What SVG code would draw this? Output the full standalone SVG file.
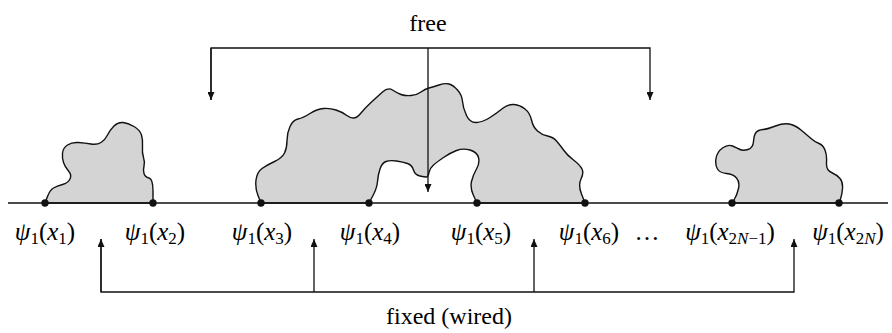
<svg xmlns="http://www.w3.org/2000/svg" width="892" height="333" viewBox="0 0 892 333">
<style>
.bg{fill:#ffffff}
.blob{fill:#d4d4d4;stroke:#111111;stroke-width:1.4;stroke-linejoin:round}
.base{stroke:#111111;stroke-width:1.4;fill:none}
.dot{fill:#111111}
.wire{stroke:#111111;stroke-width:1.3;fill:none}
.lab{font-family:"Liberation Serif","Times New Roman",serif;font-size:25px;fill:#000000}
.title{font-family:"Liberation Serif","Times New Roman",serif;font-size:24px;fill:#000000;text-anchor:middle}
.i{font-style:italic}
.sub{font-size:17px}
</style>
<defs>
<marker id="ah" viewBox="0 0 8 7" refX="8" refY="3.5" markerWidth="8" markerHeight="7" markerUnits="userSpaceOnUse" orient="auto">
<path d="M0,0 L8,3.5 L0,7 Z" fill="#111111"/>
</marker>
</defs>
<rect class="bg" x="0" y="0" width="892" height="333"/>

<g id="blob1">
<path class="blob" d="M45,203 L47.5,196.5 Q50,190 53.5,188 Q57,186 62.5,184.5 Q68,183 70,179 Q72,175 68.5,171 Q65,167 63.5,162.5 Q62,158 62.5,153 Q63,148 67.5,145 Q72,142 78.5,142.5 Q85,143 91,144 Q97,145 101,142.5 Q105,140 107.5,135 Q110,130 114,126 Q118,122 123,122.5 Q128,123 134,126.5 Q140,130 141.5,135 Q143,140 142.5,146.5 Q142,153 143.5,157.5 Q145,162 144,166 Q143,170 144,173.5 Q145,177 149,178 Q153,179 153,191 L153,203 Z"/>
</g>
<g id="blob2">
<path class="blob" d="M261,203 L258,195.5 Q255,188 256,180 Q257,172 262,168.5 Q267,165 274.5,161.5 Q282,158 284.5,153 Q287,148 287,140.5 Q287,133 290,126.5 Q293,120 298,119 Q303,118 310,113.5 Q317,109 323.5,108.5 Q330,108 336,110 Q342,112 346,115 Q350,118 353.5,118 Q357,118 361,113 Q365,108 371,102.5 Q377,97 382.5,92 Q388,87 392.5,90 Q397,93 401,94.5 Q405,96 411,95.5 Q417,95 421,92 Q425,89 429,88 Q433,87 439,85 Q445,83 449,84 Q453,85 457.5,90 Q462,95 462.5,101.5 Q463,108 466.5,115.5 Q470,123 476.5,122.5 Q483,122 490,117.5 Q497,113 502.5,108.5 Q508,104 514,104.5 Q520,105 525,109 Q530,113 531.5,120 Q533,127 537.5,131 Q542,135 547.5,136 Q553,137 556.5,141 Q560,145 563.5,150 Q567,155 573.5,160 Q580,165 582,169 Q584,173 581,179 Q578,185 581.5,194 L585,203 L477,203 L473.5,195.5 Q470,188 471.5,181.5 Q473,175 476.5,169 Q480,163 478.5,157.5 Q477,152 470,150 Q463,148 456.5,150.5 Q450,153 443.5,157.5 Q437,162 433.5,165 Q430,168 429,172.5 Q428,177 426.5,177 Q425,177 420,176 Q415,175 413.5,170 Q412,165 407.5,163.5 Q403,162 396.5,161 Q390,160 386,161.5 Q382,163 380,169 Q378,175 377.5,181.5 Q377,188 373,195.5 L369,203 Z"/>
</g>
<g id="blob3">
<path class="blob" d="M732,203 L734.5,199 Q737,195 738.5,188.5 Q740,182 736.5,178 Q733,174 726.5,173.5 Q720,173 717.5,169 Q715,165 716,158.5 Q717,152 722.5,148 Q728,144 732.5,146 Q737,148 740,149.5 Q743,151 748,149.5 Q753,148 753.5,141.5 Q754,135 756,132.5 Q758,130 763,129.5 Q768,129 775.5,126 Q783,123 789,124 Q795,125 801,130 Q807,135 811,138.5 Q815,142 819,143.5 Q823,145 825,150 Q827,155 826.5,162.5 Q826,170 831.5,172.5 Q837,175 840,178.5 Q843,182 842.5,188.5 Q842,195 840.5,199 L839,203 Z"/>
</g>

<g id="axis">
<line class="base" x1="8" y1="203" x2="888" y2="203"/>
</g>

<g id="connectors">
<polyline class="wire" points="211,100 211,48 650,48 650,100" marker-end="url(#ah)"/>
<line class="wire" x1="211" y1="48" x2="211" y2="100" marker-end="url(#ah)"/>
<line class="wire" x1="428" y1="48" x2="428" y2="192" marker-end="url(#ah)"/>
<polyline class="wire" points="101,239 101,292 794,292 794,239" marker-end="url(#ah)"/>
<line class="wire" x1="101" y1="292" x2="101" y2="239" marker-end="url(#ah)"/>
<line class="wire" x1="314" y1="292" x2="314" y2="239" marker-end="url(#ah)"/>
<line class="wire" x1="534" y1="292" x2="534" y2="239" marker-end="url(#ah)"/>
</g>

<g id="dots">
<circle class="dot" cx="45" cy="203" r="3.7"/>
<circle class="dot" cx="153" cy="203" r="3.7"/>
<circle class="dot" cx="261" cy="203" r="3.7"/>
<circle class="dot" cx="369" cy="203" r="3.7"/>
<circle class="dot" cx="477" cy="203" r="3.7"/>
<circle class="dot" cx="585" cy="203" r="3.7"/>
<circle class="dot" cx="732" cy="203" r="3.7"/>
<circle class="dot" cx="839" cy="203" r="3.7"/>
</g>

<g id="labels">
<text class="title" x="428" y="31">free</text>
<text class="title" x="449" y="324">fixed (wired)</text>
<text class="lab" x="45" y="240" text-anchor="middle"><tspan class="i">ψ</tspan><tspan class="sub" dy="4">1</tspan><tspan dy="-4">(</tspan><tspan class="i">x</tspan><tspan class="sub" dy="4">1</tspan><tspan dy="-4">)</tspan></text>
<text class="lab" x="155" y="240" text-anchor="middle"><tspan class="i">ψ</tspan><tspan class="sub" dy="4">1</tspan><tspan dy="-4">(</tspan><tspan class="i">x</tspan><tspan class="sub" dy="4">2</tspan><tspan dy="-4">)</tspan></text>
<text class="lab" x="262" y="240" text-anchor="middle"><tspan class="i">ψ</tspan><tspan class="sub" dy="4">1</tspan><tspan dy="-4">(</tspan><tspan class="i">x</tspan><tspan class="sub" dy="4">3</tspan><tspan dy="-4">)</tspan></text>
<text class="lab" x="370" y="240" text-anchor="middle"><tspan class="i">ψ</tspan><tspan class="sub" dy="4">1</tspan><tspan dy="-4">(</tspan><tspan class="i">x</tspan><tspan class="sub" dy="4">4</tspan><tspan dy="-4">)</tspan></text>
<text class="lab" x="481" y="240" text-anchor="middle"><tspan class="i">ψ</tspan><tspan class="sub" dy="4">1</tspan><tspan dy="-4">(</tspan><tspan class="i">x</tspan><tspan class="sub" dy="4">5</tspan><tspan dy="-4">)</tspan></text>
<text class="lab" x="589" y="240" text-anchor="middle"><tspan class="i">ψ</tspan><tspan class="sub" dy="4">1</tspan><tspan dy="-4">(</tspan><tspan class="i">x</tspan><tspan class="sub" dy="4">6</tspan><tspan dy="-4">)</tspan></text>
<text class="lab" x="647" y="240" text-anchor="middle">…</text>
<text class="lab" x="730" y="240" text-anchor="middle"><tspan class="i">ψ</tspan><tspan class="sub" dy="4">1</tspan><tspan dy="-4">(</tspan><tspan class="i">x</tspan><tspan class="sub" dy="4">2<tspan class="i">N</tspan>−1</tspan><tspan dy="-4">)</tspan></text>
<text class="lab" x="848" y="240" text-anchor="middle"><tspan class="i">ψ</tspan><tspan class="sub" dy="4">1</tspan><tspan dy="-4">(</tspan><tspan class="i">x</tspan><tspan class="sub" dy="4">2<tspan class="i">N</tspan></tspan><tspan dy="-4">)</tspan></text>
</g>
</svg>
